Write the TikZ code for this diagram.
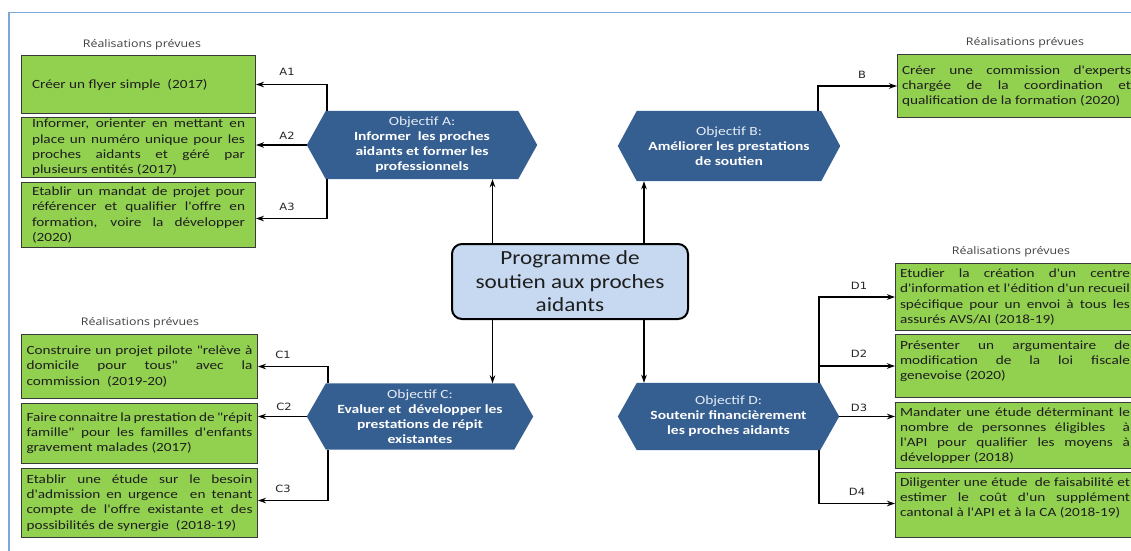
\documentclass[tikz,border=0pt]{standalone}
\usepackage{fontspec}
\setmainfont{Carlito}[Ligatures=TeXOff]
\newfontfamily\boxfont{Carlito}[Ligatures=TeXOff, FakeStretch=1.22]
\newfontfamily\hexfont{Carlito}[Ligatures=TeXOff, FakeStretch=1.24]
\newfontfamily\ctrfont{Carlito}[Ligatures=TeXOff, FakeStretch=1.16]
\newfontfamily\lblfont{DejaVu Sans}[FakeStretch=1.15]
\newfontfamily\hdrfont{Open Sans}[FakeStretch=1.18]
\usetikzlibrary{arrows.meta,calc,backgrounds}
\definecolor{boxgreen}{HTML}{92D050}
\definecolor{boxline}{HTML}{3A3A3A}
\definecolor{hexblue}{HTML}{365F91}
\definecolor{ctrfill}{HTML}{C6D9F1}
\definecolor{framebl}{HTML}{7EA6D9}
\definecolor{txt}{HTML}{1E1E1E}
\definecolor{objlight}{HTML}{E4ECF5}
\tolerance=10000
\hyphenpenalty=10000
\exhyphenpenalty=10000
\hfuzz=30pt
\hbadness=10000
\newcommand\jline[1]{\hbox to \hsize{#1}\par}
\newcommand\lline[1]{\hbox{#1}}
\newcommand\hexbg[2]{\fill[hexblue] (#1.west) -- ([xshift=#2]#1.north west) -- ([xshift=-#2]#1.north east) -- (#1.east) -- ([xshift=-#2]#1.south east) -- ([xshift=#2]#1.south west) -- cycle;}
\begin{document}
\begin{tikzpicture}[x=1pt,y=-1pt,
  rbox/.style={draw=boxline, line width=1pt, fill=boxgreen, anchor=north west, align=justify, inner ysep=0pt, text=txt, font=\boxfont\fontsize{12.5}{15.2}\selectfont},
  abox/.style={rbox, text width=213pt, inner xsep=10.5pt},
  cbox/.style={rbox, text width=226pt, inner xsep=5pt},
  dbox/.style={rbox, text width=230pt, inner xsep=4.5pt},
  hexn/.style={minimum width=#1, inner sep=0pt, text=white, align=center, font=\hexfont\fontsize{12.5}{15}\selectfont},
  ctr/.style={draw=black, line width=2pt, fill=ctrfill, rounded corners=10pt, minimum width=236pt, minimum height=75pt, align=center, inner sep=0pt, text=txt, font=\ctrfont\fontsize{20}{23.5}\selectfont},
  hdr/.style={text=black!75, font=\hdrfont\fontsize{10.5}{12}\selectfont},
  lbl/.style={text=black!85, font=\lblfont\fontsize{10}{11}\selectfont},
  arr/.style={draw=black, line width=1.3pt, -{Stealth[length=8pt,width=5.5pt]}}
]
\clip (0,0) rectangle (1131,550);
\useasboundingbox (0,0) rectangle (1131,550);
% frame
\draw[framebl, line width=1.2pt] (9,560) -- (9,12.5) -- (1140,12.5);

% headers
\node[hdr] (hdA) at (142,45) {Réalisations prévues};
\node[hdr] (hdB) at (1025,43) {Réalisations prévues};
\node[hdr] (hdC) at (140,323) {Réalisations prévues};
\node[hdr] (hdD) at (1011,252) {Réalisations prévues};

% A boxes
\node[abox, minimum height=58pt] (a1) at (21,55) {\lline{Créer un flyer simple\ \ (2017)}};
\node[abox, minimum height=60pt] (a2) at (21,117) {\jline{Informer, orienter en mettant en}\jline{place un numéro unique pour les}\jline{proches aidants et géré par}\lline{plusieurs entités (2017)}};
\node[abox, minimum height=65pt] (a3) at (21,182) {\jline{Etablir un mandat de projet pour}\jline{référencer et qualifier l'offre en}\jline{formation, voire la développer}\lline{(2020)}};

% B box
\node[dbox, text width=229pt, minimum height=63pt] (b) at (897,54) {\jline{Créer une commission d'experts}\jline{chargée de la coordination et}\lline{qualification de la formation (2020)}};

% C boxes
\node[cbox, minimum height=64pt] (c1) at (21,334) {\jline{Construire un projet pilote "relève à}\jline{domicile pour tous" avec la}\lline{commission\ \ (2019-20)}};
\node[cbox, minimum height=60pt] (c2) at (21,403) {\jline{Faire connaitre la prestation de "répit}\jline{famille" pour les familles d'enfants}\lline{gravement malades (2017)}};
\node[cbox, minimum height=69pt] (c3) at (21,468) {\jline{Etablir une étude sur le besoin}\jline{d'admission en urgence\ \ en tenant}\jline{compte de l'offre existante et des}\lline{possibilités de synergie\ \ (2018-19)}};

% D boxes
\node[dbox, minimum height=67pt] (d1) at (895,263) {\jline{Etudier la création d'un centre}\jline{d'information et l'édition d'un recueil}\jline{spécifique pour un envoi à tous les}\lline{assurés AVS/AI (2018-19)}};
\node[dbox, minimum height=63pt] (d2) at (895,334) {\jline{Présenter un argumentaire de}\jline{modification de la loi fiscale}\lline{genevoise (2020)}\par\kern9pt};
\node[dbox, minimum height=66pt] (d3) at (895,402) {\jline{Mandater une étude déterminant le}\jline{nombre de personnes éligibles\ \ à}\jline{l'API pour qualifier les moyens à}\lline{développer (2018)}};
\node[dbox, minimum height=65pt] (d4) at (895,472) {\jline{Diligenter une étude\ \ de faisabilité et}\jline{estimer le coût d'un supplément}\lline{cantonal à l'API et à la CA (2018-19)}\par\kern14pt};

% hexagons
\node[hexn=230pt, minimum height=68pt] (hA) at (422,145) {\textcolor{objlight}{Objectif A:}\\\textbf{Informer\ \ les proches}\\\textbf{aidants et former les}\\\textbf{professionnels}};
\node[hexn=222pt, minimum height=70pt] (hB) at (729,146) {\textcolor{objlight}{Objectif B:}\\\textbf{Améliorer les prestations}\\\textbf{de soutien}};
\node[hexn=226pt, minimum height=66pt] (hC) at (420,416.5) {\textcolor{objlight}{Objectif C:}\\\textbf{Evaluer et\ \ développer les}\\\textbf{prestations de répit}\\\textbf{existantes}};
\node[hexn=221pt, minimum height=67pt] (hD) at (728.5,416.5) {\textcolor{objlight}{Objectif D:}\\\textbf{Soutenir financièrement}\\\textbf{les proches aidants}};
\begin{pgfonlayer}{background}
\hexbg{hA}{19pt}
\hexbg{hB}{19pt}
\hexbg{hC}{19pt}
\hexbg{hD}{19pt}
\end{pgfonlayer}

% centre
\node[ctr] (ctr) at (570,281.5) {Programme de\\soutien aux proches\\aidants};

% trunk coordinates
\coordinate (kA) at (327,0);
\coordinate (kB) at (818,0);
\coordinate (kC) at (328,0);
\coordinate (kD) at (819,0);
\coordinate (kL) at (492.5,0);
\coordinate (kR) at (644,0);

% centre to objectives
\draw[arr] (ctr.north -| kL) -- (hA.south -| kL);
\draw[arr] (ctr.north -| kR) -- (hB.south -| kR);
\draw[arr] (ctr.south -| kL) -- (hC.north -| kL);
\draw[arr] (ctr.south -| kR) -- (hD.north -| kR);

% A connectors
\draw[arr] (hA.north -| kA) |- (a1.east);
\draw[arr] (hA.west) -- (hA.west -| a2.east);
\draw[arr] (hA.south -| kA) |- ([yshift=-3.5pt]a3.east);
\node[lbl] (lA1) at (287,72) {A1};
\node[lbl] (lA2) at (287,136) {A2};
\node[lbl] (lA3) at (287,207) {A3};

% B connector
\draw[arr] (hB.north -| kB) |- (b.west);
\node[lbl] (lB) at (862,75) {B};

% C connectors
\draw[arr] (hC.north -| kC) |- (c1.east);
\draw[arr] (hC.west) -- (hC.west -| c2.east);
\draw[arr] (hC.south -| kC) |- ([yshift=2.5pt]c3.east);
\node[lbl] (lC1) at (283,355) {C1};
\node[lbl] (lC2) at (284,407) {C2};
\node[lbl] (lC3) at (283,489) {C3};

% D connectors
\draw[arr] (hD.north -| kD) |- (d1.west);
\draw[arr] (hD.north -| kD) |- (d2.west);
\draw[arr] (hD.east) -- (hD.east -| d3.west);
\draw[arr] (hD.south -| kD) |- ([yshift=1.5pt]d4.west);
\node[lbl] (lD1) at (859,286) {D1};
\node[lbl] (lD2) at (859,354) {D2};
\node[lbl] (lD3) at (859,408) {D3};
\node[lbl] (lD4) at (857,492) {D4};
\end{tikzpicture}
\end{document}
